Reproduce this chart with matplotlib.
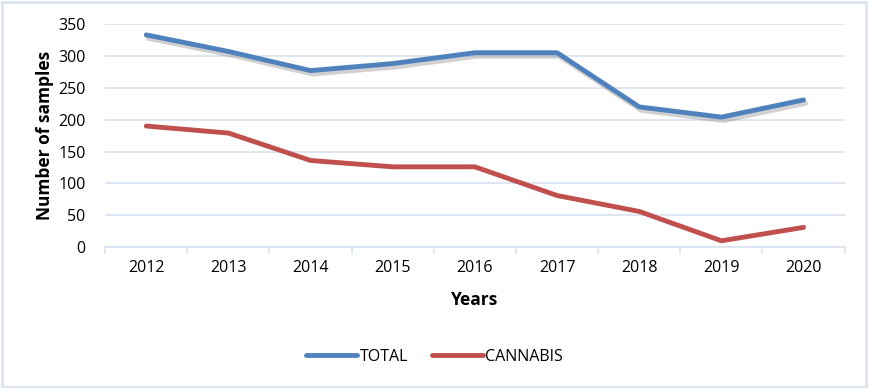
import matplotlib.pyplot as plt
import matplotlib.patheffects as pe
from matplotlib.patches import Rectangle
from matplotlib.lines import Line2D
import numpy as np

years = ["2012", "2013", "2014", "2015", "2016", "2017", "2018", "2019", "2020"]
total = [333, 307, 277, 288, 305, 305, 220, 204, 231]
cannabis = [190, 179, 136, 126, 126, 81, 56, 10, 31]

plt.rcParams['font.family'] = ['Open Sans', 'DejaVu Sans']
grid_col = "#D9E3F0"
blue, red = "#4F81BD", "#C0504D"

fig = plt.figure(figsize=(8.69, 3.88), dpi=100)
ax = fig.add_axes([0.121, 0.363, 0.851, 0.575])

xs = np.arange(len(years))
shadow = [pe.SimpleLineShadow(offset=(1.5, -2.5), shadow_color="#8c8c8c", alpha=0.4), pe.Normal()]
ax.plot(xs, total, color=blue, lw=3.5, path_effects=shadow, solid_capstyle="round")
ax.plot(xs, cannabis, color=red, lw=3.5, solid_capstyle="round")

ax.set_xlim(-0.5, len(years) - 0.5)
ax.set_ylim(0, 350)
ax.set_yticks(range(0, 351, 50))
ax.set_xticks(xs)
ax.set_xticklabels(years)
ax.set_xticks(np.arange(-0.5, len(years)), minor=True)
ax.tick_params(axis="x", which="major", length=0, pad=9, labelsize=11.5)
ax.tick_params(axis="x", which="minor", length=5, color=grid_col, width=1.2)
ax.tick_params(axis="y", length=0, pad=14, labelsize=11.5)
ax.yaxis.grid(True, color=grid_col, lw=1.2)
ax.set_axisbelow(True)
for s in ["top", "right", "left"]:
    ax.spines[s].set_visible(False)
ax.spines["bottom"].set_color(grid_col)
ax.spines["bottom"].set_linewidth(1.2)

ax.set_ylabel("Number of samples", fontweight="bold", fontsize=12.5, labelpad=3)
ax.set_xlabel("Years", fontweight="bold", fontsize=12.5, labelpad=11)

handles = [Line2D([], [], color=blue, lw=3.5, solid_capstyle="round"),
           Line2D([], [], color=red, lw=3.5, solid_capstyle="round")]
fig.legend(handles, ["TOTAL", "CANNABIS"], loc="center", bbox_to_anchor=(0.5, 0.08), ncol=2,
           frameon=False, fontsize=11.5, handlelength=3.2, handletextpad=0.15, columnspacing=1.5)

fig.patches.append(Rectangle((0.002, 0.003), 0.995, 0.993, transform=fig.transFigure,
                             fill=False, edgecolor=grid_col, lw=2))

fig.savefig("out.png", dpi=100)
